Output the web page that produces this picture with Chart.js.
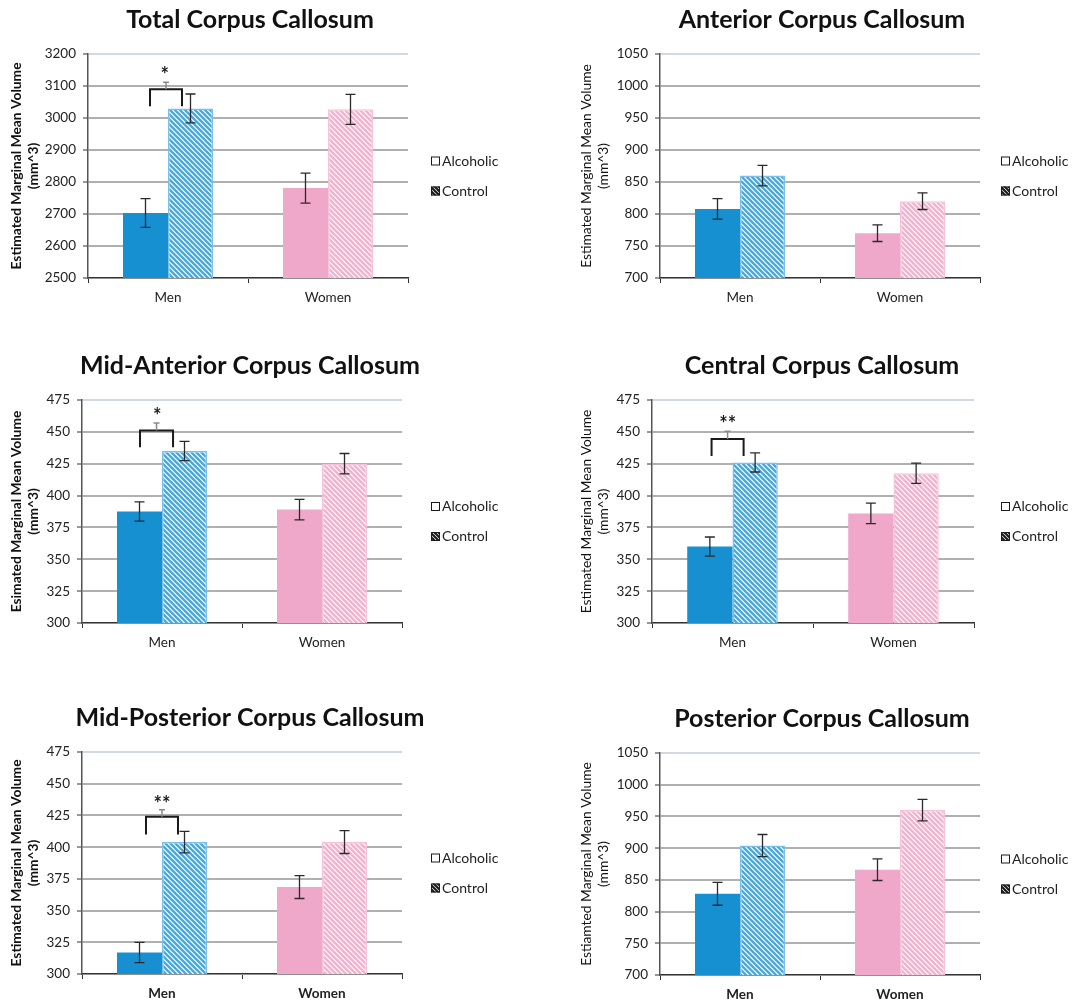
<!DOCTYPE html>
<html><head><meta charset="utf-8">
<script src="https://cdn.jsdelivr.net/npm/chart.js@4.4.1/dist/chart.umd.min.js"></script>
<style>
html,body{margin:0;padding:0;background:#fff;width:1074px;height:1007px;overflow:hidden;}
canvas{position:absolute;display:block;}
</style></head><body>
<canvas id="c1" width="500" height="318" style="left:0;top:0"></canvas>
<canvas id="c2" width="504" height="318" style="left:570px;top:0"></canvas>
<canvas id="c3" width="500" height="317" style="left:0;top:346px"></canvas>
<canvas id="c4" width="504" height="317" style="left:570px;top:346px"></canvas>
<canvas id="c5" width="500" height="316" style="left:0;top:698px"></canvas>
<canvas id="c6" width="504" height="316" style="left:570px;top:699px"></canvas>
<script>
// ---------- data ----------
const categories = ['Men', 'Women'];
const seriesNames = ['Alcoholic', 'Control'];

const totalTitle = 'Total Corpus Callosum';
const totalAlcoholic = [2703, 2781];
const totalControl = [3030, 3027];
const totalAlcoholicErr = [45, 47];
const totalControlErr = [45, 47];
const totalRange = [2500, 3200, 100];
const totalAxisTitle = ['Estimated Marginal Mean Volume', '(mm^3)'];
const totalSignif = { label: '*', from: -0.1125, to: 0.0875, legBottom: 3037, bar: 3090, tickTop: 3112, starAt: 3144, starX: -0.02 };

const anteriorTitle = 'Anterior Corpus Callosum';
const anteriorAlcoholic = [808, 770];
const anteriorControl = [860, 820];
const anteriorAlcoholicErr = [16, 13];
const anteriorControlErr = [16, 13];
const anteriorRange = [700, 1050, 50];
const anteriorAxisTitle = ['Estimated Marginal Mean Volume', '(mm^3)'];

const midAnteriorTitle = 'Mid-Anterior Corpus Callosum';
const midAnteriorAlcoholic = [387.5, 389];
const midAnteriorControl = [435, 425];
const midAnteriorAlcoholicErr = [7.5, 8];
const midAnteriorControlErr = [7.5, 8];
const midAnteriorRange = [300, 475, 25];
const midAnteriorAxisTitle = ['Esimated Marginal Mean Volume', '(mm^3)'];
const midAnteriorSignif = { label: '*', from: -0.1375, to: 0.069, legBottom: 438, bar: 451, tickTop: 457, starAt: 465, starX: -0.03 };

const centralTitle = 'Central Corpus Callosum';
const centralAlcoholic = [360, 386];
const centralControl = [426, 417.5];
const centralAlcoholicErr = [7.5, 8];
const centralControlErr = [7.5, 8];
const centralRange = [300, 475, 25];
const centralAxisTitle = ['Estimated Marginal Mean Volume', '(mm^3)'];
const centralSignif = { label: '**', from: -0.13, to: 0.069, legBottom: 431, bar: 444.4, tickTop: 450.5, starAt: 458.5, starX: -0.03 };

const midPosteriorTitle = 'Mid-Posterior Corpus Callosum';
const midPosteriorAlcoholic = [317, 368.5];
const midPosteriorControl = [404, 404];
const midPosteriorAlcoholicErr = [8, 9];
const midPosteriorControlErr = [8.5, 9];
const midPosteriorRange = [300, 475, 25];
const midPosteriorAxisTitle = ['Estimated Marginal Mean Volume', '(mm^3)'];
const midPosteriorSignif = { label: '**', from: -0.1, to: 0.1, legBottom: 410, bar: 424, tickTop: 429.5, starAt: 437, starX: 0 };

const posteriorTitle = 'Posterior Corpus Callosum';
const posteriorAlcoholic = [828, 866];
const posteriorControl = [904, 960];
const posteriorAlcoholicErr = [18, 17];
const posteriorControlErr = [17.5, 17];
const posteriorRange = [700, 1050, 50];
const posteriorAxisTitle = ['Estiamted Marginal Mean Volume', '(mm^3)'];

// ---------- styling ----------
const FONT = 'Lato, "Open Sans", "Liberation Sans", sans-serif';
const BLUE = '#1690d1';
const PINK = '#efa8c9';
const BLUE_STRIPE = '#4aa8de';
const PINK_STRIPE = '#f2b4cf';

function hatch(stripe, bg, size, lw) {
  const c = document.createElement('canvas');
  c.width = size; c.height = size;
  const x = c.getContext('2d');
  x.fillStyle = bg; x.fillRect(0, 0, size, size);
  x.strokeStyle = stripe; x.lineWidth = lw;
  x.beginPath();
  x.moveTo(-1, -1); x.lineTo(size + 1, size + 1);
  x.moveTo(-1, size - 1); x.lineTo(1, size + 1);
  x.moveTo(size - 1, -1); x.lineTo(size + 1, 1);
  x.stroke();
  return x.createPattern(c, 'repeat');
}
const bluePattern = hatch(BLUE_STRIPE, '#ffffff', 5, 2.4);
const pinkPattern = hatch(PINK_STRIPE, '#ffffff', 5, 2.6);
const legendPattern = hatch('#1a1a1a', '#ffffff', 4, 2.2);

function errorBarPlugin(errs) {
  return {
    id: 'errorBars',
    afterDatasetsDraw(chart) {
      const ctx = chart.ctx, y = chart.scales.y;
      ctx.save();
      ctx.strokeStyle = '#2a2a2a';
      ctx.lineWidth = 1.3;
      chart.data.datasets.forEach((ds, di) => {
        const meta = chart.getDatasetMeta(di);
        meta.data.forEach((bar, i) => {
          const v = ds.data[i], e = errs[di][i];
          const top = y.getPixelForValue(v + e), bot = y.getPixelForValue(v - e);
          const x = bar.x, w = 5;
          ctx.beginPath();
          ctx.moveTo(x, top); ctx.lineTo(x, bot);
          ctx.moveTo(x - w, top); ctx.lineTo(x + w, top);
          ctx.moveTo(x - w, bot); ctx.lineTo(x + w, bot);
          ctx.stroke();
        });
      });
      ctx.restore();
    }
  };
}

function signifPlugin(sig) {
  return {
    id: 'signif',
    afterDatasetsDraw(chart) {
      if (!sig) return;
      const ctx = chart.ctx, xs = chart.scales.x, ys = chart.scales.y;
      const x0 = xs.getPixelForValue(sig.from), x1 = xs.getPixelForValue(sig.to);
      const yb = ys.getPixelForValue(sig.legBottom), yh = ys.getPixelForValue(sig.bar);
      const yt = ys.getPixelForValue(sig.tickTop);
      const xc = (x0 + x1) / 2;
      ctx.save();
      ctx.strokeStyle = '#1a1a1a';
      ctx.lineWidth = 2;
      ctx.beginPath();
      ctx.moveTo(x0, yb); ctx.lineTo(x0, yh); ctx.lineTo(x1, yh); ctx.lineTo(x1, yb);
      ctx.stroke();
      ctx.strokeStyle = '#8a8a8a';
      ctx.lineWidth = 1.5;
      ctx.beginPath();
      ctx.moveTo(xc, yh); ctx.lineTo(xc, yt);
      ctx.moveTo(xc - 3, yt); ctx.lineTo(xc + 3, yt);
      ctx.stroke();
      ctx.fillStyle = '#1a1a1a';
      ctx.font = 'bold 20px ' + FONT;
      ctx.textAlign = 'center';
      ctx.textBaseline = 'middle';
      ctx.fillText(sig.label, xs.getPixelForValue(sig.starX), ys.getPixelForValue(sig.starAt) + 4);
      ctx.restore();
    }
  };
}

const legendPlugin = {
  id: 'sideLegend',
  afterDraw(chart) {
    const ctx = chart.ctx, a = chart.chartArea;
    const cy = (a.top + a.bottom) / 2;
    const bx = 431, s = 9;
    const rows = [cy - 5, cy + 25];
    ctx.save();
    ctx.font = '14px ' + FONT;
    ctx.textBaseline = 'middle';
    ctx.textAlign = 'left';
    rows.forEach((yy, i) => {
      if (i === 0) {
        ctx.fillStyle = '#fff';
        ctx.fillRect(bx, yy - s / 2, s, s);
      } else {
        ctx.fillStyle = legendPattern;
        ctx.fillRect(bx, yy - s / 2, s, s);
      }
      ctx.strokeStyle = '#1a1a1a';
      ctx.lineWidth = 1;
      ctx.strokeRect(bx + 0.5, yy - s / 2 + 0.5, s - 1, s - 1);
      ctx.fillStyle = '#222';
      ctx.fillText(seriesNames[i], bx + s + 2, yy);
    });
    ctx.restore();
  }
};

function makeChart(id, p) {
  const ctx = document.getElementById(id).getContext('2d');
  return new Chart(ctx, {
    type: 'bar',
    data: {
      labels: categories,
      datasets: [
        { label: seriesNames[0], data: p.alc, backgroundColor: [BLUE, PINK], borderWidth: 0 },
        { label: seriesNames[1], data: p.ctrl, backgroundColor: [bluePattern, pinkPattern],
          borderColor: ['#7cc0ea', '#f5c3d9'], borderWidth: 1.5 }
      ]
    },
    options: {
      responsive: false,
      animation: false,
      layout: { padding: 0 },
      datasets: { bar: { categoryPercentage: 0.5625, barPercentage: 1.0 } },
      plugins: {
        legend: { display: false },
        tooltip: { enabled: false },
        title: {
          display: true, text: p.title, color: '#111',
          font: { family: FONT, size: 25, weight: 'bold' },
          padding: { top: 5, bottom: 19 }
        }
      },
      scales: {
        x: {
          offset: true,
          afterFit: (s) => { s.height = 40; },
          grid: { display: true, drawOnChartArea: false, offset: true, drawTicks: true, tickLength: 5, tickColor: '#333', tickWidth: 1 },
          border: { display: true, color: '#333', width: 1.2 },
          ticks: { color: '#222', padding: 7, font: { family: FONT, size: 13.5, weight: p.boldText ? 'bold' : 'normal' } }
        },
        y: {
          min: p.range[0], max: p.range[1],
          afterFit: (s) => { s.width = p.yWidth; },
          ticks: { stepSize: p.range[2], color: '#222', padding: 7,
                   font: { family: FONT, size: 13.5 }, callback: (v) => String(v) },
          grid: {
            color: (c) => (c.tick && c.tick.value === p.range[1]) ? '#d3d9e2' : '#b0b0b0',
            lineWidth: 2, tickColor: '#333', tickLength: 5, tickWidth: 1
          },
          border: { display: true, color: '#555', width: 1.5 },
          title: {
            display: true, text: p.axisTitle, color: '#111',
            font: { family: FONT, size: 13.8, weight: p.boldTitle ? 'bold' : 'normal', lineHeight: 1.2 },
            padding: { top: 8.5, bottom: 0 }
          }
        },
        legendSpace: {
          type: 'linear', position: 'right', display: true,
          afterFit: (s) => { s.width = p.padRight; },
          ticks: { display: false },
          grid: { display: false, drawTicks: false },
          border: { display: false }
        }
      }
    },
    plugins: [errorBarPlugin([p.alcErr, p.ctrlErr]), signifPlugin(p.sig), legendPlugin]
  });
}

makeChart('c1', { title: totalTitle, alc: totalAlcoholic, ctrl: totalControl, alcErr: totalAlcoholicErr, ctrlErr: totalControlErr,
  range: totalRange, axisTitle: totalAxisTitle, yWidth: 88, padRight: 92, boldTitle: true, sig: totalSignif });
makeChart('c2', { title: anteriorTitle, alc: anteriorAlcoholic, ctrl: anteriorControl, alcErr: anteriorAlcoholicErr, ctrlErr: anteriorControlErr,
  range: anteriorRange, axisTitle: anteriorAxisTitle, yWidth: 90, padRight: 94, boldTitle: false, sig: null });
makeChart('c3', { title: midAnteriorTitle, alc: midAnteriorAlcoholic, ctrl: midAnteriorControl, alcErr: midAnteriorAlcoholicErr, ctrlErr: midAnteriorControlErr,
  range: midAnteriorRange, axisTitle: midAnteriorAxisTitle, yWidth: 82, padRight: 98, boldTitle: true, sig: midAnteriorSignif });
makeChart('c4', { title: centralTitle, alc: centralAlcoholic, ctrl: centralControl, alcErr: centralAlcoholicErr, ctrlErr: centralControlErr,
  range: centralRange, axisTitle: centralAxisTitle, yWidth: 82, padRight: 100, boldTitle: false, sig: centralSignif });
makeChart('c5', { title: midPosteriorTitle, alc: midPosteriorAlcoholic, ctrl: midPosteriorControl, alcErr: midPosteriorAlcoholicErr, ctrlErr: midPosteriorControlErr,
  range: midPosteriorRange, axisTitle: midPosteriorAxisTitle, yWidth: 82, padRight: 98, boldTitle: true, boldText: true, sig: midPosteriorSignif });
makeChart('c6', { title: posteriorTitle, alc: posteriorAlcoholic, ctrl: posteriorControl, alcErr: posteriorAlcoholicErr, ctrlErr: posteriorControlErr,
  range: posteriorRange, axisTitle: posteriorAxisTitle, yWidth: 90, padRight: 94, boldTitle: false, boldText: true, sig: null });
</script>
</body></html>
